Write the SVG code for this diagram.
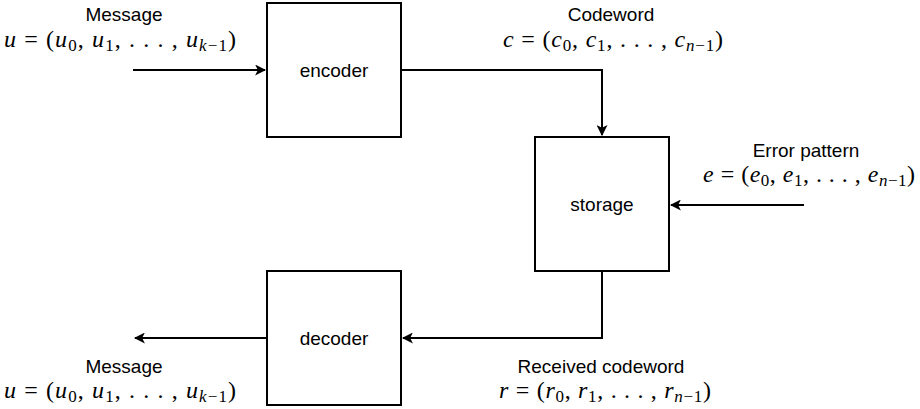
<svg xmlns="http://www.w3.org/2000/svg" width="920" height="409" viewBox="0 0 920 409">
  <style>
    .box { fill: #ffffff; stroke: #000000; stroke-width: 2; }
    .wire { fill: none; stroke: #000000; stroke-width: 2; }
    .lbl { font-family: "Liberation Sans", Arial, sans-serif; font-size: 19px; fill: #000000; text-anchor: middle; }
    .m { font-family: "Liberation Serif", "Times New Roman", serif; font-size: 24px; fill: #000000; text-anchor: middle; }
    .i { font-style: italic; }
    .s { font-size: 17px; }
  </style>
  <defs>
    <marker id="arrow" viewBox="0 0 10 10" refX="9" refY="5" markerWidth="11" markerHeight="11" markerUnits="userSpaceOnUse" orient="auto">
      <path d="M0,0 L10,5 L0,10 L2.5,5 Z" fill="#000000"/>
    </marker>
  </defs>

  <!-- connectors -->
  <g id="connectors">
    <path class="wire" d="M133,70 H265" marker-end="url(#arrow)"/>
    <path class="wire" d="M401,70 H602 V135" marker-end="url(#arrow)"/>
    <path class="wire" d="M804,205 H671" marker-end="url(#arrow)"/>
    <path class="wire" d="M602,271 V338 H403" marker-end="url(#arrow)"/>
    <path class="wire" d="M267,338 H135" marker-end="url(#arrow)"/>
  </g>

  <g id="encoder">
    <rect class="box" x="267" y="3" width="134" height="134"/>
    <text class="lbl" x="334" y="77">encoder</text>
  </g>

  <g id="storage">
    <rect class="box" x="535" y="137" width="134" height="134"/>
    <text class="lbl" x="602" y="211">storage</text>
  </g>

  <g id="decoder">
    <rect class="box" x="267" y="271" width="134" height="134"/>
    <text class="lbl" x="334" y="345">decoder</text>
  </g>

  <!-- message in -->
  <g id="message-in">
    <text class="lbl" x="124" y="21">Message</text>
    <text class="m" x="120" y="47" textLength="232" lengthAdjust="spacing"><tspan class="i">u</tspan> = (<tspan class="i">u</tspan><tspan class="s" dy="4">0</tspan><tspan dy="-4">, </tspan><tspan class="i">u</tspan><tspan class="s" dy="4">1</tspan><tspan dy="-4">, . . . , </tspan><tspan class="i">u</tspan><tspan class="s" dy="4"><tspan class="i">k</tspan>−1</tspan><tspan dy="-4">)</tspan></text>
  </g>

  <!-- codeword -->
  <g id="codeword">
    <text class="lbl" x="611" y="21">Codeword</text>
    <text class="m" x="613" y="47" textLength="220" lengthAdjust="spacing"><tspan class="i">c</tspan> = (<tspan class="i">c</tspan><tspan class="s" dy="4">0</tspan><tspan dy="-4">, </tspan><tspan class="i">c</tspan><tspan class="s" dy="4">1</tspan><tspan dy="-4">, . . . , </tspan><tspan class="i">c</tspan><tspan class="s" dy="4"><tspan class="i">n</tspan>−1</tspan><tspan dy="-4">)</tspan></text>
  </g>

  <!-- error pattern -->
  <g id="error-pattern">
    <text class="lbl" x="806" y="157">Error pattern</text>
    <text class="m" x="809" y="182" textLength="212" lengthAdjust="spacing"><tspan class="i">e</tspan> = (<tspan class="i">e</tspan><tspan class="s" dy="4">0</tspan><tspan dy="-4">, </tspan><tspan class="i">e</tspan><tspan class="s" dy="4">1</tspan><tspan dy="-4">, . . . , </tspan><tspan class="i">e</tspan><tspan class="s" dy="4"><tspan class="i">n</tspan>−1</tspan><tspan dy="-4">)</tspan></text>
  </g>

  <!-- message out -->
  <g id="message-out">
    <text class="lbl" x="124" y="373">Message</text>
    <text class="m" x="120" y="398" textLength="232" lengthAdjust="spacing"><tspan class="i">u</tspan> = (<tspan class="i">u</tspan><tspan class="s" dy="4">0</tspan><tspan dy="-4">, </tspan><tspan class="i">u</tspan><tspan class="s" dy="4">1</tspan><tspan dy="-4">, . . . , </tspan><tspan class="i">u</tspan><tspan class="s" dy="4"><tspan class="i">k</tspan>−1</tspan><tspan dy="-4">)</tspan></text>
  </g>

  <!-- received codeword -->
  <g id="received-codeword">
    <text class="lbl" x="601" y="373">Received codeword</text>
    <text class="m" x="605" y="398" textLength="212" lengthAdjust="spacing"><tspan class="i">r</tspan> = (<tspan class="i">r</tspan><tspan class="s" dy="4">0</tspan><tspan dy="-4">, </tspan><tspan class="i">r</tspan><tspan class="s" dy="4">1</tspan><tspan dy="-4">, . . . , </tspan><tspan class="i">r</tspan><tspan class="s" dy="4"><tspan class="i">n</tspan>−1</tspan><tspan dy="-4">)</tspan></text>
  </g>
</svg>
